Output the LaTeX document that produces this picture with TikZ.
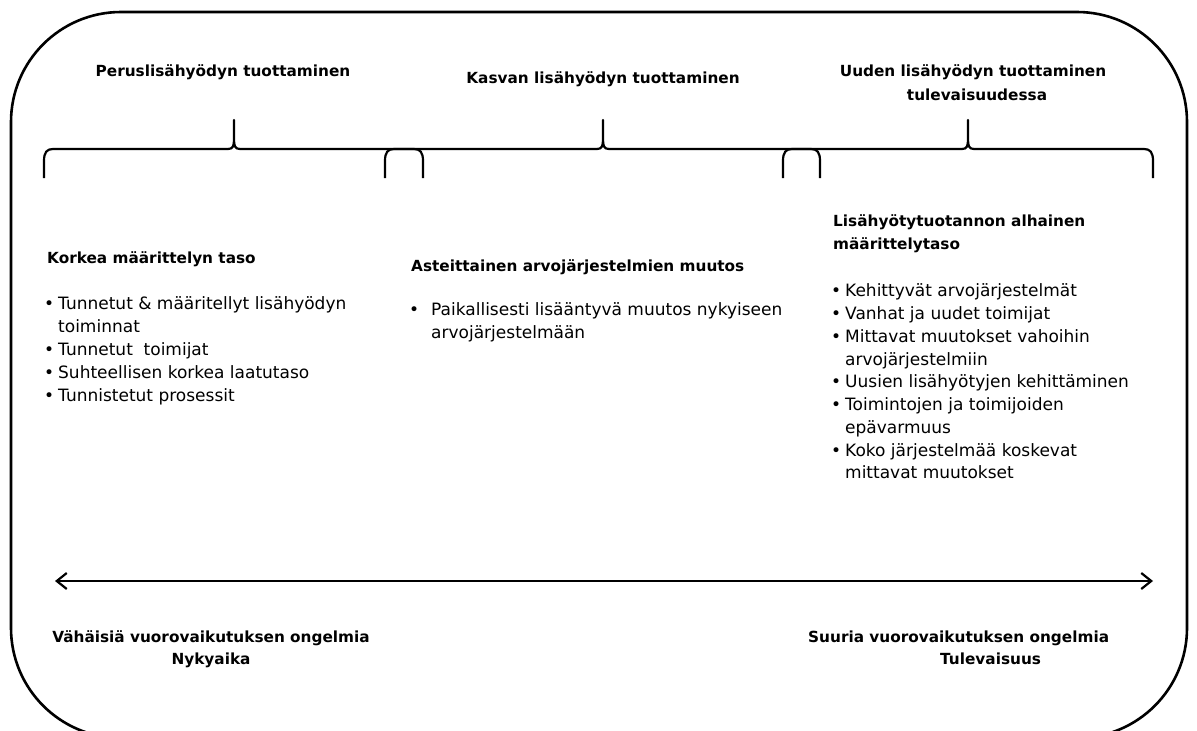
\documentclass[tikz,border=0pt]{standalone}
\usepackage{fontspec}
\setmainfont{DejaVu Sans}
\usetikzlibrary{arrows.meta}
\tikzset{
 txt/.style={inner sep=0pt, anchor=base west, font=\fontsize{17}{20}\selectfont},
 hdr/.style={inner sep=0pt, anchor=base west, font=\fontsize{15.3}{19}\selectfont\bfseries},
 hdrc/.style={hdr, anchor=base},
 frame/.style={line width=2.6pt, rounded corners=110pt},
 brace/.style={line width=2.2pt, line join=round},
 axis/.style={line width=2.2pt, {Straight Barb[length=10pt,width=16pt]}-{Straight Barb[length=10pt,width=16pt]}}
}
\newcommand\mybrace[3]{\draw[brace] (#1,178) -- (#1,161) .. controls (#1,152) and (#1+3,149) .. (#1+9,149) -- (#2-6,149) .. controls (#2-1,149) and (#2,146) .. (#2,139) -- (#2,120) -- (#2,139) .. controls (#2,146) and (#2+1,149) .. (#2+6,149) -- (#3-9,149) .. controls (#3-3,149) and (#3,152) .. (#3,161) -- (#3,178);}
\begin{document}
\begin{tikzpicture}[x=1pt,y=-1pt]
\useasboundingbox (0,0) rectangle (1197,731);
\draw[frame] (11,12) rectangle (1187,738);
% braces
\mybrace{44}{234}{423}
\mybrace{385}{603}{820}
\mybrace{783}{968}{1153}
% top headers
\node[hdrc] (t1) at (223,76) {Peruslisähyödyn tuottaminen};
\node[hdrc] (t2) at (603,83) {Kasvan lisähyödyn tuottaminen};
\node[hdrc] (t3a) at (973,76) {Uuden lisähyödyn tuottaminen};
\node[hdrc] (t3b) at (977,100) {tulevaisuudessa};
% left column
\node[hdr] (h1) at (47,263) {Korkea määrittelyn taso};
\node[txt] (l1b) at (44,309) {•};
\node[txt] (l1) at (58,309) {Tunnetut \& määritellyt lisähyödyn};
\node[txt] (l1c) at (58,332) {toiminnat};
\node[txt] (l2b) at (44,355) {•};
\node[txt] (l2) at (58,355) {Tunnetut\ \ toimijat};
\node[txt] (l3b) at (44,378) {•};
\node[txt] (l3) at (58,378) {Suhteellisen korkea laatutaso};
\node[txt] (l4b) at (44,401) {•};
\node[txt] (l4) at (58,401) {Tunnistetut prosessit};
% middle column
\node[hdr] (h2) at (411,271) {Asteittainen arvojärjestelmien muutos};
\node[txt] (m1b) at (409,315) {•};
\node[txt] (m1) at (431,315) {Paikallisesti lisääntyvä muutos nykyiseen};
\node[txt] (m1c) at (431,338) {arvojärjestelmään};
% right column
\node[hdr] (h3a) at (833,226) {Lisähyötytuotannon alhainen};
\node[hdr] (h3b) at (833,249) {määrittelytaso};
\node[txt] (r1b) at (831,296) {•};
\node[txt] (r1) at (845,296) {Kehittyvät arvojärjestelmät};
\node[txt] (r2b) at (831,319) {•};
\node[txt] (r2) at (845,319) {Vanhat ja uudet toimijat};
\node[txt] (r3b) at (831,342) {•};
\node[txt] (r3) at (845,342) {Mittavat muutokset vahoihin};
\node[txt] (r3c) at (845,365) {arvojärjestelmiin};
\node[txt] (r4b) at (831,387) {•};
\node[txt] (r4) at (845,387) {Uusien lisähyötyjen kehittäminen};
\node[txt] (r5b) at (831,410) {•};
\node[txt] (r5) at (845,410) {Toimintojen ja toimijoiden};
\node[txt] (r5c) at (845,433) {epävarmuus};
\node[txt] (r6b) at (831,456) {•};
\node[txt] (r6) at (845,456) {Koko järjestelmää koskevat};
\node[txt] (r6c) at (845,478) {mittavat muutokset};
% axis
\coordinate (L) at (55,581);
\coordinate (R) at (1153,581);
\draw[axis] (L) -- (R);
% bottom
\node[hdrc] (f1) at (211,642) {Vähäisiä vuorovaikutuksen ongelmia};
\node[hdrc] (f2) at (211,664) {Nykyaika};
\node[hdr] (f3) at (808,642) {Suuria vuorovaikutuksen ongelmia};
\node[hdr] (f4) at (940,664) {Tulevaisuus};
\end{tikzpicture}
\end{document}
